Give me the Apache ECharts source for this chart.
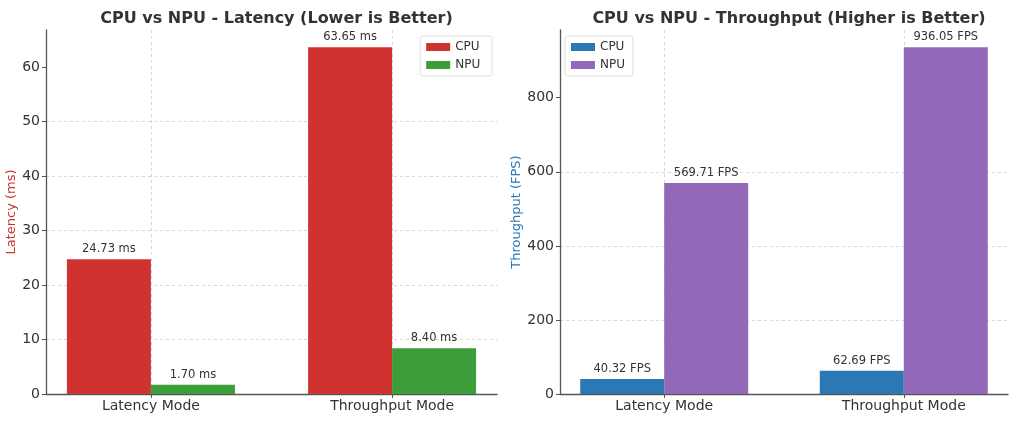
<!DOCTYPE html>
<html>
<head>
<meta charset="utf-8">
<script src="https://cdn.jsdelivr.net/npm/echarts@6/dist/echarts.min.js"></script>
<style>html,body{margin:0;padding:0;background:#fff}#c{width:1019px;height:421px}</style>
</head>
<body>
<div id="c"></div>
<script>
const categories = ['Latency Mode', 'Throughput Mode'];
const latencyCPU = [24.73, 63.65];
const latencyNPU = [1.70, 8.40];
const throughputCPU = [40.32, 62.69];
const throughputNPU = [569.71, 936.05];
const latencyTicks = [0, 10, 20, 30, 40, 50, 60];
const throughputTicks = [0, 200, 400, 600, 800];

const FONT = 'DejaVu Sans';
const TXT = '#333';
const toPts = arr => arr.map((v, i) => [i, v]);

function xAxisFor(gi) {
  return {
    type: 'value', gridIndex: gi, min: -0.435, max: 1.435,
    axisLine: { show: true, onZero: false, lineStyle: { color: '#555', width: 1.3 } },
    axisTick: { show: true, customValues: [0, 1], length: 4, lineStyle: { color: '#555' } },
    axisLabel: { customValues: [0, 1], formatter: v => categories[Math.round(v)] || '',
      fontFamily: FONT, fontSize: 14, color: TXT, margin: 5 },
    splitLine: { show: true, lineStyle: { color: '#ccc', type: [3, 3], width: 0.8 } }
  };
}
function yAxisFor(gi, max, ticks, name, nameColor, gap) {
  return {
    type: 'value', gridIndex: gi, min: 0, max: max,
    name: name, nameLocation: 'middle', nameGap: gap,
    nameTextStyle: { color: nameColor, fontFamily: FONT, fontSize: 13 },
    axisLine: { show: true, onZero: false, lineStyle: { color: '#555', width: 1.3 } },
    axisTick: { show: true, customValues: ticks, length: 4, lineStyle: { color: '#555' } },
    axisLabel: { customValues: ticks, fontFamily: FONT, fontSize: 14, color: TXT, margin: 6 },
    splitLine: { show: true, showMaxLine: false, lineStyle: { color: '#ccc', type: [3, 3], width: 0.8 } }
  };
}
function barSeries(name, data, color, xi, unit) {
  return {
    type: 'bar', name: name, xAxisIndex: xi, yAxisIndex: xi,
    data: toPts(data), barWidth: 84, barGap: '0%',
    itemStyle: { color: color },
    label: { show: true, position: 'top', distance: 4, fontFamily: FONT, fontSize: 11.5, color: TXT,
      formatter: p => p.value[1].toFixed(2) + ' ' + unit }
  };
}
const legendBase = {
  orient: 'vertical', itemWidth: 24, itemHeight: 8, itemGap: 6, icon: 'rect',
  textStyle: { fontFamily: FONT, fontSize: 12, color: TXT },
  borderColor: '#ddd', borderWidth: 1, borderRadius: 3, padding: [5, 8, 5, 6],
  backgroundColor: 'rgba(255,255,255,0.8)'
};

const chart = echarts.init(document.getElementById('c'), null, { renderer: 'canvas' });
chart.setOption({
  animation: false,
  title: [
    { text: 'CPU vs NPU - Latency (Lower is Better)', left: 271.5, top: 6, textAlign: 'center',
      textStyle: { fontFamily: FONT, fontSize: 16, fontWeight: 'bold', color: TXT } },
    { text: 'CPU vs NPU - Throughput (Higher is Better)', left: 784, top: 6, textAlign: 'center',
      textStyle: { fontFamily: FONT, fontSize: 16, fontWeight: 'bold', color: TXT } }
  ],
  legend: [
    Object.assign({}, legendBase, { data: ['CPU ', 'NPU '], right: 527, top: 36 }),
    Object.assign({}, legendBase, { data: ['CPU', 'NPU'], left: 565, top: 36 })
  ],
  grid: [
    { left: 46, right: 522, top: 30, bottom: 27 },
    { left: 560, right: 11, top: 30, bottom: 27 }
  ],
  xAxis: [xAxisFor(0), xAxisFor(1)],
  yAxis: [
    yAxisFor(0, 63.65 * 1.05, latencyTicks, 'Latency (ms)', '#d0312d', 27),
    yAxisFor(1, 936.05 * 1.05, throughputTicks, 'Throughput (FPS)', '#2b78b4', 37)
  ],
  series: [
    barSeries('CPU ', latencyCPU, '#d0332f', 0, 'ms'),
    barSeries('NPU ', latencyNPU, '#3c9e38', 0, 'ms'),
    barSeries('CPU', throughputCPU, '#2b78b4', 1, 'FPS'),
    barSeries('NPU', throughputNPU, '#9269b8', 1, 'FPS')
  ]
});
</script>
</body>
</html>
